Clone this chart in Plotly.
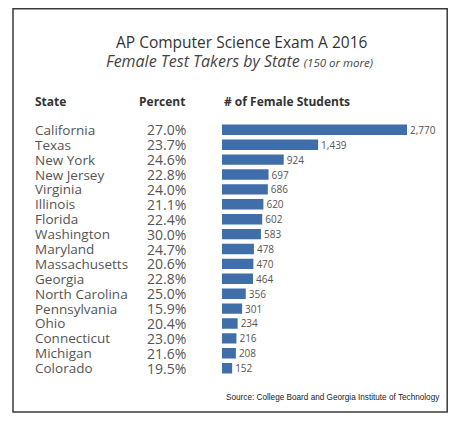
import plotly.graph_objects as go

states = ["California", "Texas", "New York", "New Jersey", "Virginia", "Illinois",
          "Florida", "Washington", "Maryland", "Massachusetts", "Georgia",
          "North Carolina", "Pennsylvania", "Ohio", "Connecticut", "Michigan", "Colorado"]
percents = [27.0, 23.7, 24.6, 22.8, 24.0, 21.1, 22.4, 30.0, 24.7, 20.6, 22.8,
            25.0, 15.9, 20.4, 23.0, 21.6, 19.5]
female_students = [2770, 1439, 924, 697, 686, 620, 602, 583, 478, 470, 464,
                   356, 301, 234, 216, 208, 152]

# page has an 8px body margin; figure is sized to fit the 456x421 window
OFF = 8
W, H = 456 - 2 * OFF, 421 - 2 * OFF
FONT = "Open Sans"
TXT = "#555555"
BAR = "#3f6ea9"


def px(X):
    return (X - OFF) / W


def py(Y):
    return 1 - (Y - OFF) / H


# layout geometry in page pixels
bar_x0, bar_x_end = 222, 444
px_per_unit = 185 / 2770
row_top, row_bot = 126, 372
n = len(states)
step = (row_bot - row_top) / (n - 1)
dom_top = row_top - step / 2
dom_bot = row_bot + step / 2

fig = go.Figure(go.Bar(
    y=states, x=female_students, orientation="h",
    marker=dict(color=BAR, line=dict(width=0)),
    width=0.7,
    text=[f"{v:,}" for v in female_students],
    textposition="outside", cliponaxis=False, constraintext="none",
    textfont=dict(family=FONT, size=10, color=TXT),
))

fig.update_layout(
    width=W, height=H,
    margin=dict(l=0, r=0, t=0, b=0),
    paper_bgcolor="white", plot_bgcolor="white",
    showlegend=False,
    xaxis=dict(domain=[px(bar_x0), px(bar_x_end)],
               range=[0, (bar_x_end - bar_x0) / px_per_unit],
               visible=False, fixedrange=True),
    yaxis=dict(domain=[py(dom_bot), py(dom_top)],
               autorange="reversed", visible=False, type="category"),
    bargap=0.3,
)

ann = []
for s, p in zip(states, percents):
    ann.append(dict(x=px(33), xref="paper", y=s, yref="y", text=s, showarrow=False,
                    xanchor="left", yanchor="middle",
                    font=dict(family=FONT, size=13.5, color=TXT)))
    ann.append(dict(x=px(188), xref="paper", y=s, yref="y", text=f"{p:.1f}%",
                    showarrow=False, xanchor="right", yanchor="middle",
                    font=dict(family=FONT, size=14, color=TXT)))

ann += [
    dict(x=px(241), xref="paper", y=py(42), yref="paper", showarrow=False,
         text="AP Computer Science Exam A 2016", xanchor="center", yanchor="middle",
         font=dict(family=FONT, size=15.5, color="#333333")),
    dict(x=px(239), xref="paper", y=py(61), yref="paper", showarrow=False,
         text="<i>Female Test Takers by State <span style='font-size:11.5px'>(150 or more)</span></i>",
         xanchor="center", yanchor="middle",
         font=dict(family=FONT, size=16, color="#444444")),
    dict(x=px(33), xref="paper", y=py(101), yref="paper", showarrow=False,
         text="<b>State</b>", xanchor="left", yanchor="middle",
         font=dict(family=FONT, size=12, color="#333333")),
    dict(x=px(187), xref="paper", y=py(101), yref="paper", showarrow=False,
         text="<b>Percent</b>", xanchor="right", yanchor="middle",
         font=dict(family=FONT, size=12, color="#333333")),
    dict(x=px(222), xref="paper", y=py(101), yref="paper", showarrow=False,
         text="<b># of Female Students</b>", xanchor="left", yanchor="middle",
         font=dict(family=FONT, size=12, color="#333333")),
    dict(x=px(442), xref="paper", y=py(397), yref="paper", showarrow=False,
         text="Source: College Board and Georgia Institute of Technology",
         xanchor="right", yanchor="middle",
         font=dict(family="Liberation Sans Narrow, Arial Narrow, sans-serif", size=8.2, color="#222222")),
]
fig.update_layout(annotations=ann)

fig.add_shape(type="rect", xref="paper", yref="paper",
              x0=px(13), x1=px(447.2), y0=py(412), y1=py(8.8),
              line=dict(color="#3a3a3a", width=1.5), fillcolor="rgba(0,0,0,0)")

fig.write_html("out.html")
